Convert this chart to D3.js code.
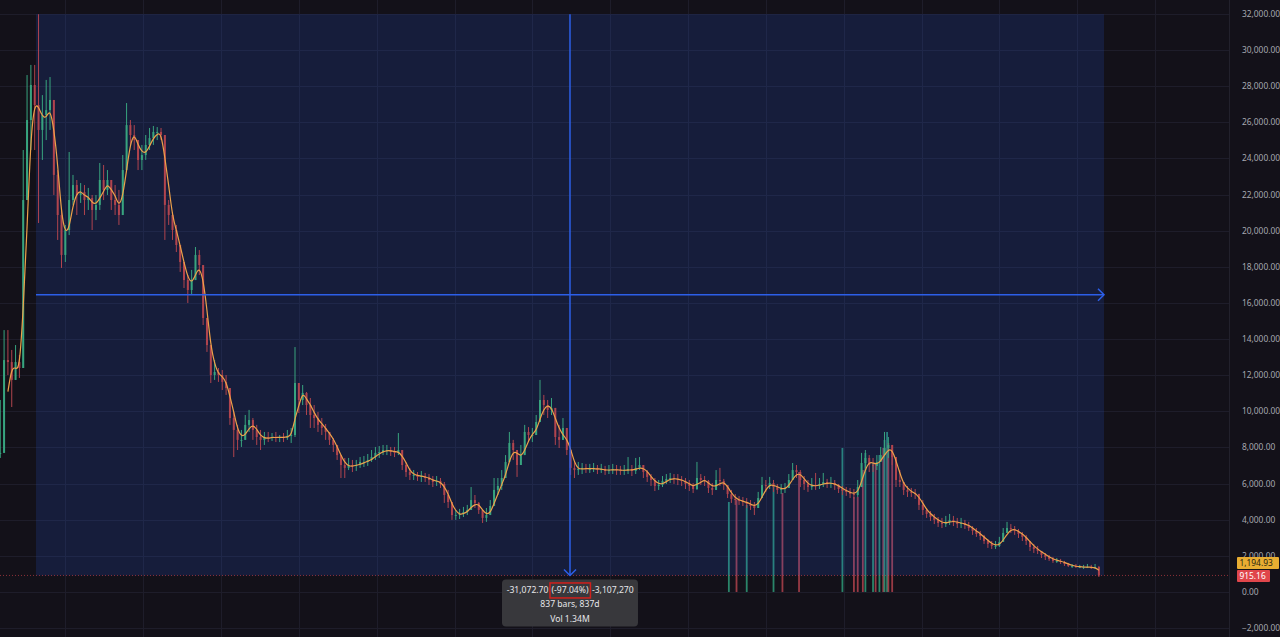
<!DOCTYPE html>
<html>
<head>
<meta charset="utf-8">
<script src="https://cdn.jsdelivr.net/npm/d3@7"></script>
<style>
  body { margin: 0; background: #131119; }
  svg { display: block; font-family: "Noto Sans", "Open Sans", sans-serif; }
</style>
</head>
<body>
<svg id="chart" width="1280" height="637"></svg>
<script>
// daily candles, aggregated 3 days per bar
const firstDay = -28;
const dayStep = 3;

const closes = [
  7700,12840,12730,11740,12730,12400,21700,26130,28070,26960,
  25580,26410,26680,27240,23090,20870,18660,20040,21700,22530,
  21980,22140,21700,21810,21150,21430,22810,22260,22810,21700,
  21430,20870,23360,25850,25300,25020,23920,24190,24750,25130,
  25470,25470,25300,21430,20870,20040,19210,18270,17270,16720,
  17270,18660,18100,15170,13670,12010,12180,12010,11630,11290,
  9630,8970,8420,8420,9250,9520,8970,8580,8420,8580,
  8530,8580,8530,8580,8530,8640,8690,11570,10630,11020,
  10350,9800,9630,9250,9080,8860,8420,8140,7580,7030,
  6870,7030,6980,7030,7200,7200,7310,7470,7700,7750,
  7860,7860,7750,7700,7860,7030,6640,6480,6480,6370,
  6420,6310,6200,6090,6150,5980,5370,4980,4260,4260,
  4320,4430,4540,5090,4930,4540,4100,4260,4760,5650,
  5870,6310,7200,8250,7860,7030,7580,8860,8690,8690,
  9410,10630,10350,10080,10190,8580,8420,9080,7860,6870,
  6750,6810,6870,6810,6810,6870,6750,6810,6700,6750,
  6810,6750,6700,6750,6810,6700,6870,7030,6640,6370,
  6200,5870,5920,6150,6260,6310,6260,6200,6150,5980,
  5870,5700,6310,6200,6150,5760,5650,6200,6150,5920,
  5420,5150,5090,5040,4980,4870,4760,4650,5200,5920,
  5870,6030,5810,5650,5700,5760,6200,6750,6640,6200,
  5980,5810,5920,5870,5980,6090,5980,6030,5920,5700,
  5590,5540,5430,5370,5810,7140,7420,7030,6980,7200,
  7580,7970,8140,7470,6200,6090,5650,5540,5480,5430,
  4820,4540,4320,4150,3990,3820,3760,3880,3990,3880,
  3760,3820,3710,3540,3380,3210,3100,2820,2660,2550,
  2550,2770,3270,3540,3490,3380,3210,3050,2820,2490,
  2380,2270,2050,1940,1830,1720,1720,1660,1550,1440,
  1440,1380,1380,1380,1380,1330,1380,915.16
];

const highs = [
  10630,14500,14500,13400,13670,13120,24470,28620,29180,29180,
  31987.86,27510,28350,28510,26680,23360,21150,20320,24360,23090,
  22810,22640,22530,22370,21980,21980,23750,23640,23360,22810,
  22530,22260,24190,27070,26130,25850,25020,24750,25300,25690,
  25800,25740,25690,22810,21700,21040,20320,19040,18100,17550,
  17830,19100,18930,17830,15060,13670,12840,12400,12290,12010,
  10910,9970,9250,8970,9800,10080,9630,9250,8970,8860,
  8860,8800,8860,8690,8800,8970,9080,13560,11460,11460,
  11070,10740,10350,9970,9630,9300,8860,8530,8140,7580,
  7420,7420,7310,7310,7470,7530,7640,7860,8030,8080,
  8140,8140,8030,8030,8800,7700,7200,6870,6750,6640,
  6700,6590,6530,6420,6420,6310,6090,5650,4820,4540,
  4600,4710,4820,5810,5370,4980,4540,4650,5090,6310,
  6310,6750,7580,8860,8420,7580,8140,9250,9130,9080,
  9800,11740,10910,10630,10740,9970,9250,9630,8690,7860,
  7200,7200,7140,7090,7090,7140,7030,7090,6980,7030,
  7090,7030,6980,7030,7470,7030,7420,7470,7030,6750,
  6530,6310,6200,6420,6530,6590,6530,6530,6420,6310,
  6200,6030,7200,6530,6420,6200,6030,6750,6870,6260,
  5920,5650,5420,5310,5260,5200,5090,4980,5540,6370,
  6200,6370,6200,5980,5980,6030,6530,7140,7030,6750,
  6420,6200,6310,6590,6310,6590,6260,6370,6200,5980,
  5870,5810,5760,5700,6200,7700,7860,7580,7420,7580,
  8030,8860,8580,8140,7030,6750,5980,5870,5760,5700,
  5370,5090,4650,4480,4320,4150,4100,4210,4320,4210,
  4100,4100,3990,3880,3650,3540,3380,3160,2930,2820,
  2820,3050,3540,3880,3760,3650,3490,3320,3160,2820,
  2660,2550,2270,2160,2050,1940,1880,1830,1720,1610,
  1550,1550,1500,1500,1550,1500,1550,1440
];

const lows = [
  7420,10080,12010,10240,11740,11850,15060,21700,24470,24470,
  20430,23920,25020,25580,21980,19490,17940,18270,19760,21430,
  20870,21540,20870,21150,20040,20590,21150,21700,21980,21150,
  20870,20320,20870,23640,24750,24470,23360,23360,23920,24470,
  24750,25020,25020,19490,20320,19490,18820,17720,16830,16000,
  16440,17550,17550,14780,13290,11570,11740,11630,11180,10910,
  9250,7470,7860,8030,8420,8860,8420,8140,7860,8140,
  8300,8360,8300,8300,8300,8420,8250,8580,9910,10350,
  9800,9080,9080,8860,8690,8420,8140,7750,7310,6310,
  6310,6750,6640,6700,6870,6920,6980,7200,7310,7420,
  7580,7580,7530,7470,7580,6750,6370,6200,6200,6150,
  6090,6090,5920,5810,5870,5760,4930,4650,3990,3990,
  4040,4150,4260,4540,4650,4320,3820,3880,4260,4930,
  5370,5650,6750,7470,7310,6370,7030,8140,8300,8300,
  8690,9800,9800,9630,9800,8140,7970,8420,7580,6480,
  6310,6480,6530,6590,6590,6640,6530,6590,6480,6530,
  6530,6480,6480,6480,6530,6420,6530,6750,6310,6090,
  5870,5590,5650,5810,5980,6030,5980,5920,5870,5700,
  5590,5480,5650,5920,5870,5480,5370,5650,5870,5650,
  5200,4930,4820,4820,4760,4650,4540,4260,4650,5370,
  5540,5700,5540,5430,5430,5480,5810,6200,6310,5810,
  5650,5540,5650,5650,5700,5810,5760,5760,5650,5480,
  5370,5320,5200,5150,5260,5920,6870,6640,6640,6750,
  7200,7580,7420,7030,5810,5810,5370,5260,5260,5150,
  4540,4260,4100,3930,3760,3600,3540,3600,3710,3650,
  3540,3540,3490,3380,3160,3050,2880,2660,2440,2380,
  2380,2490,2880,3270,3270,3160,2990,2820,2600,2270,
  2160,2100,1880,1770,1720,1610,1610,1550,1440,1380,
  1330,1330,1330,1270,1330,1270,1270,830
];

// the few volume bars that stand out (day, volume in M, up?)
const volDays   = [543, 549, 557, 578, 585, 598, 632, 641, 644, 648, 650, 656, 658, 661, 664, 665, 667, 668, 671];
const volValues = [9.0, 9.2, 8.7, 10.7, 9.9, 12.0, 14.4, 9.5, 9.5, 12.2, 13.9, 12.9, 12.9, 13.7, 14.4, 15.2, 16.0, 14.9, 14.2];
const volUp     = [1, 0, 1, 1, 0, 0, 1, 0, 0, 0, 1, 1, 0, 1, 0, 1, 1, 0, 0];

// price ruler (measure tool) from the top to the last bar
const measureStartDay = 0;
const measureEndDay = 837;
const measureHigh = 31987.86;
const measureLow = 915.16;
const measureLines = ['-31,072.70', '(-97.04%)', '-3,107,270', '837 bars, 837d', 'Vol 1.34M'];

const lastPrice = 915.16;
const lastMA = 1194.93;
const maLength = 3;

const priceTicks = d3.range(-2000, 32001, 2000);
const gridDays = d3.range(23, 950, 61);

const width = 1280;
const height = 637;
const plotRight = 1229;

const svg = d3.select('#chart');

const x = d3.scaleLinear().domain([-28.2, 837]).range([0, 1104]);
const y = d3.scaleLinear().domain([-2000, 32000]).range([628.1, 14]);
const yVol = d3.scaleLinear().domain([0, 16]).range([y(0), y(0) - 160]);

const fmt = d3.format(',.2f');

const bars = closes.map((c, i) => {
  const o = i > 0 ? closes[i - 1] : c;
  const h = highs[i] !== undefined ? highs[i] : c;
  const l = lows[i] !== undefined ? lows[i] : c;
  return {
    day: firstDay + i * dayStep,
    open: o,
    close: c,
    high: Math.max(h, o, c),
    low: Math.min(l, o, c),
  };
});

const ma = bars.map((b, i) => {
  if (i < maLength - 1) return null;
  return { day: b.day, value: d3.mean(closes.slice(i - maLength + 1, i + 1)) };
}).filter(d => d);

// background + grid
svg.append('rect')
  .attr('width', width)
  .attr('height', height)
  .attr('fill', '#131119');

svg.append('g')
  .selectAll('line')
  .data(priceTicks)
  .enter().append('line')
    .attr('x1', 0)
    .attr('x2', plotRight)
    .attr('y1', d => Math.round(y(d)) + 0.5)
    .attr('y2', d => Math.round(y(d)) + 0.5)
    .attr('stroke', '#1e1d2a');

svg.append('g')
  .selectAll('line')
  .data(gridDays.filter(d => x(d) < plotRight))
  .enter().append('line')
    .attr('x1', d => Math.round(x(d)) + 0.5)
    .attr('x2', d => Math.round(x(d)) + 0.5)
    .attr('y1', 0)
    .attr('y2', height)
    .attr('stroke', '#1e1d2a');

svg.append('line')
  .attr('x1', plotRight + 0.5)
  .attr('x2', plotRight + 0.5)
  .attr('y1', 0)
  .attr('y2', height)
  .attr('stroke', '#22212c');

// volume
svg.append('g')
  .selectAll('rect')
  .data(volDays)
  .enter().append('rect')
    .attr('x', d => x(d) - 0.9)
    .attr('width', 1.8)
    .attr('y', (d, i) => yVol(volValues[i]))
    .attr('height', (d, i) => yVol(0) - yVol(volValues[i]))
    .attr('fill', (d, i) => (volUp[i] ? '#2f9a78' : '#b0424c'))
    .attr('opacity', 0.85);

// measure area
const rx0 = x(measureStartDay);
const rx1 = x(measureEndDay);
const ry0 = y(measureHigh);
const ry1 = y(measureLow);

svg.append('rect')
  .attr('x', rx0)
  .attr('y', ry0)
  .attr('width', rx1 - rx0)
  .attr('height', ry1 - ry0)
  .attr('fill', 'rgba(41,98,255,0.15)');

// candles
const candle = svg.append('g')
  .selectAll('g')
  .data(bars)
  .enter().append('g');

const colorOf = d => (d.close >= d.open ? '#38a47f' : '#b0444e');

candle.append('line')
  .attr('x1', d => x(d.day))
  .attr('x2', d => x(d.day))
  .attr('y1', d => y(d.high))
  .attr('y2', d => y(d.low))
  .attr('stroke', colorOf)
  .attr('stroke-width', 1);

candle.append('rect')
  .attr('x', d => x(d.day) - 1)
  .attr('width', 2)
  .attr('y', d => y(Math.max(d.open, d.close)))
  .attr('height', d => Math.max(1, Math.abs(y(d.open) - y(d.close))))
  .attr('fill', colorOf);

// moving average
svg.append('path')
  .datum(ma)
  .attr('fill', 'none')
  .attr('stroke', '#eda14a')
  .attr('stroke-width', 1.2)
  .attr('d', d3.line()
    .x(d => x(d.day))
    .y(d => y(d.value))
    .curve(d3.curveBasis));

// last price line
svg.append('line')
  .attr('x1', 0)
  .attr('x2', plotRight)
  .attr('y1', y(lastPrice))
  .attr('y2', y(lastPrice))
  .attr('stroke', '#d8454c')
  .attr('stroke-opacity', 0.6)
  .attr('stroke-dasharray', '1,2');

// measure arrows
const mx = (rx0 + rx1) / 2;
const my = (ry0 + ry1) / 2;
const blue = '#2c5fe8';

svg.append('line')
  .attr('x1', mx).attr('x2', mx)
  .attr('y1', ry0).attr('y2', ry1)
  .attr('stroke', blue)
  .attr('stroke-width', 1.5);

svg.append('path')
  .attr('d', `M${mx - 6},${ry1 - 6} L${mx},${ry1} L${mx + 6},${ry1 - 6}`)
  .attr('fill', 'none')
  .attr('stroke', blue)
  .attr('stroke-width', 1.5);

svg.append('line')
  .attr('x1', rx0).attr('x2', rx1)
  .attr('y1', my).attr('y2', my)
  .attr('stroke', blue)
  .attr('stroke-width', 1.5);

svg.append('path')
  .attr('d', `M${rx1 - 6},${my - 6} L${rx1},${my} L${rx1 - 6},${my + 6}`)
  .attr('fill', 'none')
  .attr('stroke', blue)
  .attr('stroke-width', 1.5);

// measure label box
const box = svg.append('g');
box.append('rect')
  .attr('x', mx - 68)
  .attr('y', ry1 + 4)
  .attr('width', 136)
  .attr('height', 47)
  .attr('rx', 4)
  .attr('fill', '#38383c');

const labelStyle = sel => sel
  .attr('font-size', 8.6)
  .attr('fill', '#e6e6ea');

const pct = box.append('text')
  .attr('x', mx)
  .attr('y', ry1 + 18)
  .attr('text-anchor', 'middle')
  .text(measureLines[1])
  .call(labelStyle);

const pb = pct.node().getBBox();

box.append('rect')
  .attr('x', pb.x - 1.5)
  .attr('y', pb.y - 1.5)
  .attr('width', pb.width + 3)
  .attr('height', pb.height + 3)
  .attr('fill', 'none')
  .attr('stroke', '#d0201c')
  .attr('stroke-width', 1.5);

box.append('text')
  .attr('x', pb.x - 3)
  .attr('y', ry1 + 18)
  .attr('text-anchor', 'end')
  .text(measureLines[0])
  .call(labelStyle);

box.append('text')
  .attr('x', pb.x + pb.width + 3)
  .attr('y', ry1 + 18)
  .attr('text-anchor', 'start')
  .text(measureLines[2])
  .call(labelStyle);

box.append('text')
  .attr('x', mx)
  .attr('y', ry1 + 32)
  .attr('text-anchor', 'middle')
  .text(measureLines[3])
  .call(labelStyle);

box.append('text')
  .attr('x', mx)
  .attr('y', ry1 + 47)
  .attr('text-anchor', 'middle')
  .text(measureLines[4])
  .call(labelStyle);

// price axis
svg.append('g')
  .selectAll('text')
  .data(priceTicks)
  .enter().append('text')
    .attr('x', 1242)
    .attr('y', d => y(d) + 3)
    .attr('font-size', 8.4)
    .attr('fill', '#a7a8b0')
    .text(d => fmt(d));

const tags = [
  { value: lastMA, y: 563, fill: '#e8ad32', color: '#2a2410', w: 42 },
  { value: lastPrice, y: 576, fill: '#e0464b', color: '#ffffff', w: 33 },
];

const tag = svg.append('g')
  .selectAll('g')
  .data(tags)
  .enter().append('g');

tag.append('rect')
  .attr('x', 1237)
  .attr('y', d => d.y - 6)
  .attr('width', d => d.w)
  .attr('height', 12)
  .attr('rx', 1)
  .attr('fill', d => d.fill);

tag.append('text')
  .attr('x', 1239.5)
  .attr('y', d => d.y + 3)
  .attr('font-size', 8.4)
  .attr('fill', d => d.color)
  .text(d => fmt(d.value));
</script>
</body>
</html>
